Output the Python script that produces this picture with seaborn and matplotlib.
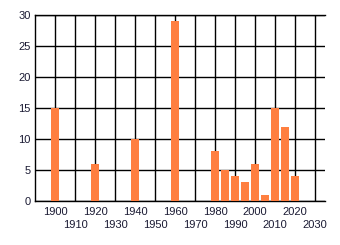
import matplotlib
matplotlib.use("Agg")
import matplotlib.pyplot as plt
import seaborn as sns
import numpy as np

years = [1900, 1920, 1940, 1960, 1980, 1985, 1990, 1995, 2000, 2005, 2010, 2015, 2020]
values = [15, 6, 10, 29, 8, 5, 4, 3, 6, 1, 15, 12, 4]
upper_ticks = [1900, 1920, 1940, 1960, 1980, 2000, 2020]
lower_ticks = [1910, 1930, 1950, 1970, 1990, 2010, 2030]
y_ticks = [0, 5, 10, 15, 20, 25, 30]

sns.set_style("white")
plt.rcParams['font.family'] = ['Liberation Sans', 'DejaVu Sans']

fig = plt.figure(figsize=(3.4, 2.45), dpi=100)
ax = fig.add_axes([35/340, 44/245, 290/340, 186/245])

sns.barplot(x=years, y=values, native_scale=True, color="#FF7F40",
            saturation=1, width=0.8, linewidth=0, edgecolor="none", ax=ax, zorder=3)

text_color = "#1a1a33"
fs = 8
ax.set_xlim(1890, 2035)
ax.set_ylim(0, 30)
ax.set_xticks(upper_ticks)
ax.set_xticklabels([str(t) for t in upper_ticks])
ax.set_xticks(lower_ticks, minor=True)
ax.set_xticklabels([str(t) for t in lower_ticks], minor=True)
ax.set_yticks(y_ticks)
ax.tick_params(axis='x', which='major', length=0, pad=4, labelsize=fs, colors=text_color)
ax.tick_params(axis='x', which='minor', length=5, width=1, pad=9, labelsize=fs,
               colors=text_color)
ax.tick_params(axis='x', which='minor', color='black')
ax.tick_params(axis='y', length=0, pad=3, labelsize=fs, colors=text_color)
ax.grid(True, which='both', color='black', linewidth=1, zorder=0)
ax.set_axisbelow(True)
for s in ['top', 'left', 'bottom']:
    ax.spines[s].set_color('black')
    ax.spines[s].set_linewidth(1)
ax.spines['right'].set_visible(False)
ax.set_xlabel("")
ax.set_ylabel("")

fig.savefig("out.png", dpi=100)
